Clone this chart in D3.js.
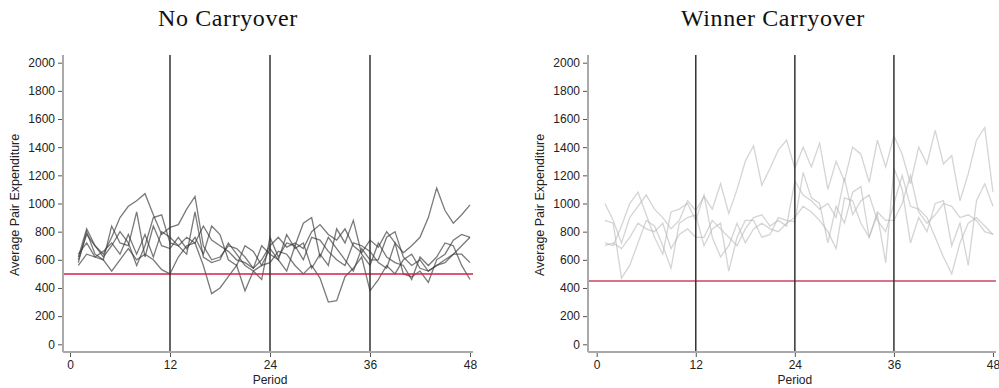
<!DOCTYPE html>
<html lang="en">
<head>
<meta charset="utf-8">
<title>Average Pair Expenditure</title>
<script src="https://d3js.org/d3.v7.min.js"></script>
<style>
  body { margin: 0; background: #fff; }
  .tick text { font-family: "Liberation Sans", Arial, sans-serif; font-size: 12px; fill: #222; }
</style>
</head>
<body>
<script>
// periods 1..48
var periods = d3.range(1, 49);
var yTicks = [0, 200, 400, 600, 800, 1000, 1200, 1400, 1600, 1800, 2000];
var xTicks = [0, 12, 24, 36, 48];
var phaseBreaks = [12, 24, 36];

// No Carryover sessions
var noCarry1 = [600,780,700,640,760,900,980,1020,1070,920,780,830,850,960,1050,700,600,620,700,680,620,540,600,700,760,690,720,680,800,850,780,740,820,700,650,740,690,800,720,650,700,760,900,1110,950,860,920,990];
var noCarry2 = [560,640,620,600,520,600,680,600,640,600,530,500,620,700,720,560,360,400,480,560,380,520,560,580,660,640,560,500,560,470,300,310,480,540,620,380,460,560,500,600,640,540,520,560,600,640,700,760];
var noCarry3 = [620,820,700,620,700,800,720,560,700,900,920,720,700,640,940,620,580,600,720,640,560,520,460,760,620,720,700,860,900,620,760,680,600,520,680,600,600,760,800,620,560,600,520,560,580,640,640,580];
var noCarry4 = [580,800,640,600,840,720,700,940,620,840,700,680,760,680,760,640,840,780,600,560,700,660,560,680,600,780,680,720,540,640,560,820,720,880,640,560,720,620,580,560,460,620,560,620,720,700,560,460];
var noCarry5 = [640,720,620,660,720,640,780,640,780,620,800,760,700,760,720,840,740,700,660,600,580,540,700,640,600,520,700,600,760,740,660,600,560,720,700,660,580,540,720,500,480,520,440,600,640,740,780,760];
var noCarryEq = 500;

// Winner Carryover sessions
var winCarry1 = [1000,880,720,900,980,1060,960,900,820,880,1020,950,1050,960,1140,930,1100,1300,1410,1130,1250,1380,1450,1250,1400,1260,1430,1100,1300,1160,1400,1350,1150,1450,1260,1480,1350,1140,1400,1280,1520,1280,1340,1020,1210,1450,1540,1080];
var winCarry2 = [880,860,470,560,720,880,840,700,540,860,900,920,700,820,860,520,760,880,880,760,780,900,880,870,1220,1040,1000,720,980,860,1080,1120,760,920,580,1250,1100,720,900,800,1000,1020,700,860,560,1020,1140,980];
var winCarry3 = [700,720,680,760,860,820,800,860,680,780,820,760,760,880,820,760,700,820,900,920,840,880,840,1160,1060,1020,960,1000,900,1180,920,1020,1060,880,800,1000,1200,980,960,900,760,620,500,720,860,900,840,780];
var winCarry4 = [720,700,840,1000,1080,920,760,640,940,960,1000,880,1060,760,620,700,860,720,820,860,820,800,860,900,980,940,880,800,680,1040,1020,860,760,940,880,880,1000,1200,940,860,920,1000,980,900,920,880,800,780];
var winCarryEq = 450;

var panels = [
  { title: "No Carryover", titleX: 228, series: [noCarry1, noCarry2, noCarry3, noCarry4, noCarry5], eq: noCarryEq,
    axisX: 63, x0: 70, x1: 470, lineColor: "#3a3a3a", lineOpacity: 0.68, eqColor: "#d41f4c", eqWidth: 1.5 },
  { title: "Winner Carryover", titleX: 773, series: [winCarry1, winCarry2, winCarry3, winCarry4], eq: winCarryEq,
    axisX: 588, x0: 596.7, x1: 993, lineColor: "#b8b8b8", lineOpacity: 0.6, eqColor: "#d9728c", eqWidth: 2 }
];

var W = 999, H = 388;
var plotTop = 55, axisY = 352;

var svg = d3.select("body").append("svg")
  .attr("width", W)
  .attr("height", H);

var y = d3.scaleLinear().domain([0, 2000]).range([344.3, 62.7]);

panels.forEach(function(p) {
  var x = d3.scaleLinear().domain([0, 48]).range([p.x0, p.x1]);
  var g = svg.append("g");
  var right = p.x1 + 3;

  //title
  g.append("text")
    .attr("x", p.titleX)
    .attr("y", 26)
    .attr("text-anchor", "middle")
    .style("font-family", "'Liberation Serif', 'DejaVu Serif', serif")
    .style("font-size", "24px")
    .style("letter-spacing", "0.6px")
    .style("fill", "#111")
    .text(p.title);

  //session lines
  var line = d3.line()
    .x(function(d, i) { return x(periods[i]); })
    .y(function(d) { return y(d); });

  g.selectAll("path.session")
    .data(p.series)
    .enter()
    .append("path")
    .attr("class", "session")
    .attr("d", line)
    .attr("fill", "none")
    .attr("stroke", p.lineColor)
    .attr("stroke-opacity", p.lineOpacity)
    .attr("stroke-width", 1.3);

  //equilibrium line
  g.append("line")
    .attr("x1", p.axisX).attr("x2", right)
    .attr("y1", y(p.eq)).attr("y2", y(p.eq))
    .attr("stroke", p.eqColor)
    .attr("stroke-width", p.eqWidth);

  //phase breaks
  g.selectAll("line.phase")
    .data(phaseBreaks)
    .enter()
    .append("line")
    .attr("class", "phase")
    .attr("x1", function(d) { return x(d); })
    .attr("x2", function(d) { return x(d); })
    .attr("y1", plotTop).attr("y2", axisY)
    .attr("stroke", "#333")
    .attr("stroke-width", 1.5);

  //y axis
  var yAxis = d3.axisLeft(y).tickValues(yTicks).tickFormat(d3.format("d")).tickSize(5).tickPadding(3);
  var ya = g.append("g").attr("transform", "translate(" + p.axisX + ",0)").call(yAxis);
  ya.select(".domain").remove();
  ya.selectAll(".tick line").attr("stroke", "#555");
  ya.append("line")
    .attr("x1", 0).attr("x2", 0).attr("y1", plotTop).attr("y2", axisY)
    .attr("stroke", "#aaa").attr("stroke-width", 2);

  //x axis
  var xAxis = d3.axisBottom(x).tickValues(xTicks).tickSize(5).tickPadding(3);
  var xa = g.append("g").attr("transform", "translate(0," + axisY + ")").call(xAxis);
  xa.select(".domain").remove();
  xa.selectAll(".tick line").attr("stroke", "#555");
  xa.append("line")
    .attr("x1", p.axisX).attr("x2", right).attr("y1", 0).attr("y2", 0)
    .attr("stroke", "#aaa").attr("stroke-width", 2);

  //axis titles
  g.append("text")
    .attr("x", x(24))
    .attr("y", 384)
    .attr("text-anchor", "middle")
    .style("font-family", "'Liberation Sans', Arial, sans-serif")
    .style("font-size", "12px")
    .style("fill", "#222")
    .text("Period");

  g.append("text")
    .attr("transform", "translate(" + (p.axisX - 44) + "," + y(990) + ") rotate(-90)")
    .attr("text-anchor", "middle")
    .style("font-family", "'Liberation Sans', Arial, sans-serif")
    .style("font-size", "12.5px")
    .style("fill", "#222")
    .text("Average Pair Expenditure");
});
</script>
</body>
</html>
